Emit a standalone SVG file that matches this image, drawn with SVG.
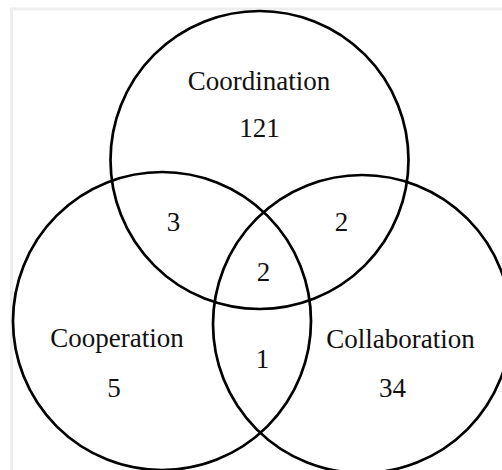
<svg xmlns="http://www.w3.org/2000/svg" width="502" height="470" viewBox="0 0 502 470">
<style>
.set{fill:none;stroke:#000;stroke-width:2.7}
.lbl{font-family:"Liberation Serif","Times New Roman",serif;font-size:27px;fill:#111;text-anchor:middle}
</style>
<rect width="502" height="470" fill="#fff"/>
<rect x="11.5" y="9" width="520" height="480" fill="#fff" stroke="#eeeeee" stroke-width="3"/>
<g id="coordination">
<circle class="set" cx="259.5" cy="160" r="149"/>
<text class="lbl" x="259" y="90">Coordination</text>
<text class="lbl" x="259.5" y="137">121</text>
</g>
<g id="cooperation">
<circle class="set" cx="162" cy="321" r="149"/>
<text class="lbl" x="117" y="347">Cooperation</text>
<text class="lbl" x="114" y="397">5</text>
</g>
<g id="collaboration">
<circle class="set" cx="362" cy="324" r="149"/>
<text class="lbl" x="400.5" y="348">Collaboration</text>
<text class="lbl" x="392.5" y="397">34</text>
</g>
<g id="overlaps">
<text class="lbl" x="173.5" y="231">3</text>
<text class="lbl" x="341.5" y="231">2</text>
<text class="lbl" x="263.5" y="281">2</text>
<text class="lbl" x="262.5" y="368">1</text>
</g>
<g id="connectors"></g>
</svg>
